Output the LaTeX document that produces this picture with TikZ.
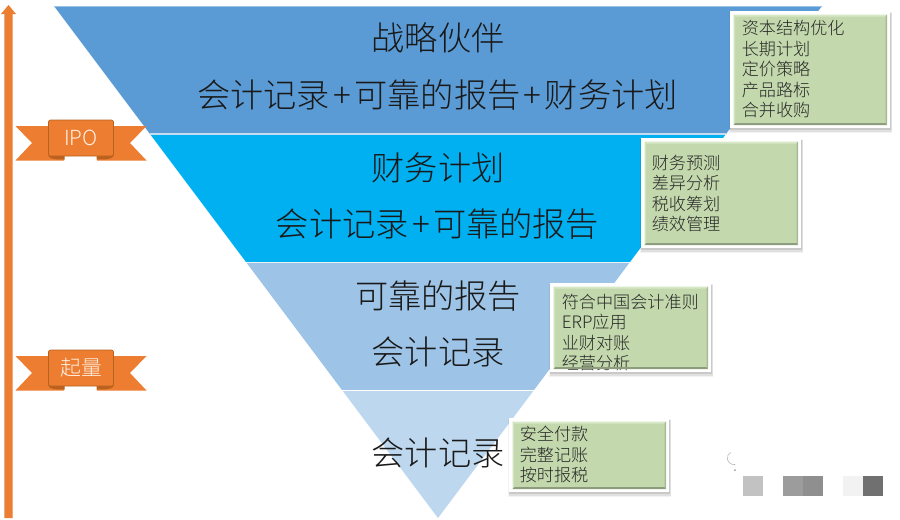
\documentclass[tikz,border=0pt]{standalone}
\usepackage{fontspec}
\setmainfont{Noto Sans CJK SC Light}
\newcommand{\plusgap}{\kern2.5pt+\kern2.5pt}
\begin{document}
\begin{tikzpicture}[x=0.75pt,y=-0.75pt,
  big/.style={inner sep=0pt,font=\fontsize{24.9pt}{30pt}\selectfont,text=black!90},
  small/.style={inner sep=0pt,anchor=west,align=left,font=\fontsize{12.85pt}{15.4pt}\selectfont,text=black!85},
  flag/.style={inner sep=0pt,font=\fontsize{15.6pt}{18pt}\selectfont,text=orange!10!white},
  outerbox/.style={fill=white,draw=none,rectangle,minimum width=0pt,inner sep=0pt}]
\definecolor{ribbon}{HTML}{ED7D31}
\definecolor{ribbondark}{HTML}{B9611F}
\definecolor{bandA}{HTML}{5B9BD5}
\definecolor{bandB}{HTML}{00B0F0}
\definecolor{bandC}{HTML}{9DC3E6}
\definecolor{bandD}{HTML}{BDD7EE}
\definecolor{boxfill}{HTML}{C3D9AD}
\definecolor{boxtop}{HTML}{D6E8C6}
\definecolor{boxbot}{HTML}{8C9C7C}
\useasboundingbox (0,0) rectangle (900,519);
\fill[white] (0,0) rectangle (900,519);
% pyramid bands
\fill[bandA] (54,6) -- (822,6) -- (726,134) -- (150,134) -- cycle;
\fill[bandB] (150,134) -- (726,134) -- (630,262) -- (246,262) -- cycle;
\fill[bandC] (246,262) -- (630,262) -- (534,390) -- (342,390) -- cycle;
\fill[bandD] (342,390) -- (534,390) -- (438,518) -- cycle;
\draw[bandC,line width=0.9pt] (54,6.3) -- (822,6.3);
\draw[bandC!60!white,line width=0.8pt] (150,134) -- (726,134);
\draw[white!80!bandC,line width=0.6pt] (246,262) -- (630,262);
\draw[white,line width=0.6pt] (342,390) -- (534,390);
% band labels
\node[big] (a1) at (438,38) {战略伙伴};
\node[big] (a2) at (437.5,95) {会计记录\plusgap 可靠的报告\plusgap 财务计划};
\node[big] (b1) at (438,168) {财务计划};
\node[big] (b2) at (437.5,224) {会计记录\plusgap 可靠的报告};
\node[big] (c1) at (438,295.5) {可靠的报告};
\node[big] (c2) at (438,352) {会计记录};
\node[big] (d1) at (438,453) {会计记录};
% axis arrow
\fill[ribbon] (4.5,518) -- (4.5,14) -- (1,14) -- (8.5,5) -- (16,14) -- (12.7,14) -- (12.7,518) -- cycle;
\draw[ribbondark!50!white,line width=0.5pt] (4.5,518) -- (4.5,14);
% ribbons
\newcommand{\ribbonflag}[3]{%
  \fill[ribbon] (48,#1+6) -- (15.5,#1+6) -- (32,#1+23) -- (15.5,#1+40.5) -- (64,#1+40.5) -- (64,#1+30) -- (48,#1+30) -- cycle;
  \fill[ribbon] (114,#1+6) -- (146.5,#1+6) -- (130,#1+23) -- (146.5,#1+40.5) -- (97,#1+40.5) -- (97,#1+30) -- (114,#1+30) -- cycle;
  \fill[ribbondark] (48.5,#1+34) -- (48.5,#1+36) .. controls (50,#1+39) and (55,#1+39.5) .. (64.5,#1+39.5) -- (64.5,#1+36) -- cycle;
  \fill[ribbondark] (113.5,#1+34) -- (113.5,#1+36) .. controls (112,#1+39) and (107,#1+39.5) .. (96.5,#1+39.5) -- (96.5,#1+36) -- cycle;
  \draw[ribbondark,line width=0.5pt,fill=ribbon,rounded corners=1.5pt] (48.5,#1) rectangle (113.5,#1+36);
  \node[flag] (#3) at (81,#1+18) {#2};
}
\ribbonflag{120}{IPO}{ipo}
\ribbonflag{350}{起量}{qiliang}
% green boxes: #1 x0, #2 y0, #3 x1, #4 y1, #5 name, #6 text x, #7 text y, #8 text
\newcommand{\greenbox}[8]{%
  \fill[black,opacity=0.05] (#1-1,#2+1) rectangle (#3+2,#4+5);
  \fill[black,opacity=0.07] (#1,#2+2) rectangle (#3+1.5,#4+3.5);
  \fill[black,opacity=0.10] (#1,#2+2) rectangle (#3+0.5,#4+2);
  \node[outerbox,minimum width={(#3-#1)*0.75pt},minimum height={(#4-#2)*0.75pt},anchor=north west] (#5) at (#1,#2) {};
  \fill[boxfill] (#1+3.5,#2+3.5) rectangle (#3-3,#4-3);
  \node[small] (#5t) at (#6,#7) {#8};
  \fill[boxtop] (#1+3.5,#2+3.5) -- (#3-3,#2+3.5) -- (#3-4.5,#2+5.5) -- (#1+5,#2+5.5) -- cycle;
  \fill[boxbot] (#1+3.5,#4-3) -- (#3-3,#4-3) -- (#3-4.5,#4-5) -- (#1+5,#4-5) -- cycle;
  \fill[boxtop!70!boxfill] (#1+3.5,#2+3.5) -- (#1+5,#2+5.5) -- (#1+5,#4-5) -- (#1+3.5,#4-3) -- cycle;
  \fill[boxbot!50!boxfill] (#3-3,#2+3.5) -- (#3-4.5,#2+5.5) -- (#3-4.5,#4-5) -- (#3-3,#4-3) -- cycle;
}
\greenbox{730}{11}{890}{128}{boxa}{741.5}{69.3}{资本结构优化\\长期计划\\定价策略\\产品路标\\合并收购}
\greenbox{641}{138}{801}{248}{boxb}{651.5}{193.5}{财务预测\\差异分析\\税收筹划\\绩效管理}
\greenbox{550}{283}{711}{372}{boxc}{561.5}{332.5}{符合中国会计准则\\ERP应用\\业财对账\\经营分析}
\greenbox{509}{418}{669}{492}{boxd}{519.5}{454.7}{安全付款\\完整记账\\按时报税}
% watermark remnants
\fill[black!24] (743,476) rectangle (763,496);
\fill[black!39] (783,476) rectangle (803,496);
\fill[black!44] (803,476) rectangle (823,496);
\fill[black!5] (843,476) rectangle (863,496);
\fill[black!56] (863,476) rectangle (883,496);
\draw[black!30,line width=0.4pt] (735,464.5) arc (80:240:6.5);
\fill[black!40] (735,470) circle (1);
\end{tikzpicture}
\end{document}
